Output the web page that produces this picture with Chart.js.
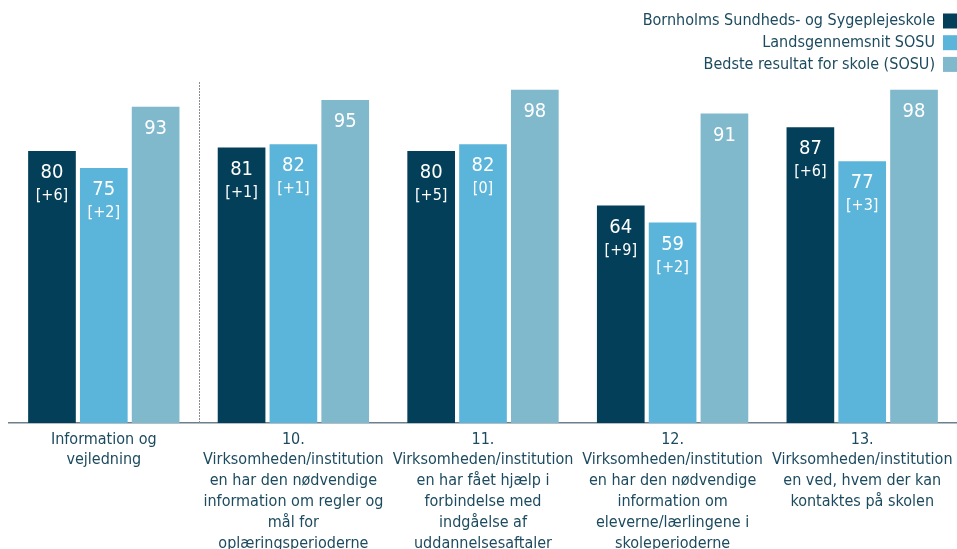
<!DOCTYPE html>
<html>
<head>
<meta charset="utf-8">
<script src="https://cdn.jsdelivr.net/npm/chart.js@4/dist/chart.umd.min.js"></script>
<style>
  html, body { margin: 0; padding: 0; background: #fff; overflow: hidden; }
  #wrap { width: 957px; height: 549px; position: relative; }
</style>
</head>
<body>
<div id="wrap"><canvas id="chart"></canvas></div>
<script>
// categories (multi-line labels)
var categories = [
    ["Information og", "vejledning"],
    ["10.", "Virksomheden/institution", "en har den nødvendige", "information om regler og", "mål for", "oplæringsperioderne"],
    ["11.", "Virksomheden/institution", "en har fået hjælp i", "forbindelse med", "indgåelse af", "uddannelsesaftaler"],
    ["12.", "Virksomheden/institution", "en har den nødvendige", "information om", "eleverne/lærlingene i", "skoleperioderne"],
    ["13.", "Virksomheden/institution", "en ved, hvem der kan", "kontaktes på skolen"]
];

var seriesNames = ["Bornholms Sundheds- og Sygeplejeskole", "Landsgennemsnit SOSU", "Bedste resultat for skole (SOSU)"];
var schoolValues = [80, 81, 80, 64, 87];
var averageValues = [75, 82, 82, 59, 77];
var bestValues = [93, 95, 98, 91, 98];

// change since last time, shown in brackets
var schoolChange = ["+6", "+1", "+5", "+9", "+6"];
var averageChange = ["+2", "+1", "0", "+2", "+3"];

var colors = ["#033f58", "#5bb5da", "#80b8cc"];
var textColor = "#1c4a5f";
var fontName = "'DejaVu Sans Condensed', 'DejaVu Sans', sans-serif";

// value labels inside the bars
var barLabels = {
    id: "barLabels",
    afterDatasetsDraw: function(chart)
    {
        var ctx = chart.ctx;
        var changes = [schoolChange, averageChange, null];
        ctx.save();
        ctx.fillStyle = "#ffffff";
        ctx.textAlign = "center";
        ctx.textBaseline = "middle";
        chart.data.datasets.forEach(function(ds, i)
        {
            chart.getDatasetMeta(i).data.forEach(function(bar, j)
            {
                ctx.font = "20px " + fontName;
                ctx.fillText(ds.data[j], bar.x, bar.y + 22);
                if(changes[i])
                {
                    ctx.font = "16px " + fontName;
                    ctx.fillText("[" + changes[i][j] + "]", bar.x, bar.y + 45);
                }
            });
        });
        ctx.restore();
    }
};

// dotted separator after the first group + legend in the top right
var extras = {
    id: "extras",
    afterDraw: function(chart)
    {
        var ctx = chart.ctx;
        var x = chart.scales.x;
        var area = chart.chartArea;
        var sx = Math.round((x.getPixelForValue(0) + x.getPixelForValue(1)) / 2) + 0.5;
        ctx.save();
        ctx.strokeStyle = "#8c8c8c";
        ctx.lineWidth = 1;
        ctx.setLineDash([2, 1]);
        ctx.beginPath();
        ctx.moveTo(sx, area.top - 1);
        ctx.lineTo(sx, area.bottom);
        ctx.stroke();
        ctx.setLineDash([]);

        ctx.font = "16px " + fontName;
        ctx.textAlign = "right";
        ctx.textBaseline = "middle";
        chart.data.datasets.forEach(function(ds, i)
        {
            var cy = 21 + i * 21.7;
            ctx.fillStyle = ds.backgroundColor;
            ctx.fillRect(943, cy - 7.5, 15, 15);
            ctx.fillStyle = textColor;
            ctx.fillText(ds.label, 935, cy);
        });
        ctx.restore();
    }
};

var container = document.getElementById("chart").getContext("2d");
var mychart = new Chart(container, {
    type: 'bar',
    data: {
        labels: categories,
        datasets: [
            { label: seriesNames[0], data: schoolValues, backgroundColor: colors[0] },
            { label: seriesNames[1], data: averageValues, backgroundColor: colors[1] },
            { label: seriesNames[2], data: bestValues, backgroundColor: colors[2] }
        ]
    },
    options: {
        responsive: true,
        maintainAspectRatio: false,
        animation: false,
        categoryPercentage: 0.82,
        barPercentage: 0.92,
        layout: { padding: { top: 83, left: 9, right: 0, bottom: 0 } },
        plugins: {
            legend: { display: false },
            tooltip: { enabled: false }
        },
        scales: {
            x: {
                grid: { display: false },
                border: { display: true, color: "#6d7f8b", width: 1.5 },
                ticks: {
                    color: textColor,
                    font: { family: fontName, size: 16, lineHeight: 1.3 },
                    padding: -2,
                    maxRotation: 0,
                    autoSkip: false
                },
                afterFit: function(scale) { scale.height = 126; }
            },
            y: {
                display: false,
                min: 0,
                max: 100
            }
        }
    },
    plugins: [barLabels, extras]
});
</script>
</body>
</html>
